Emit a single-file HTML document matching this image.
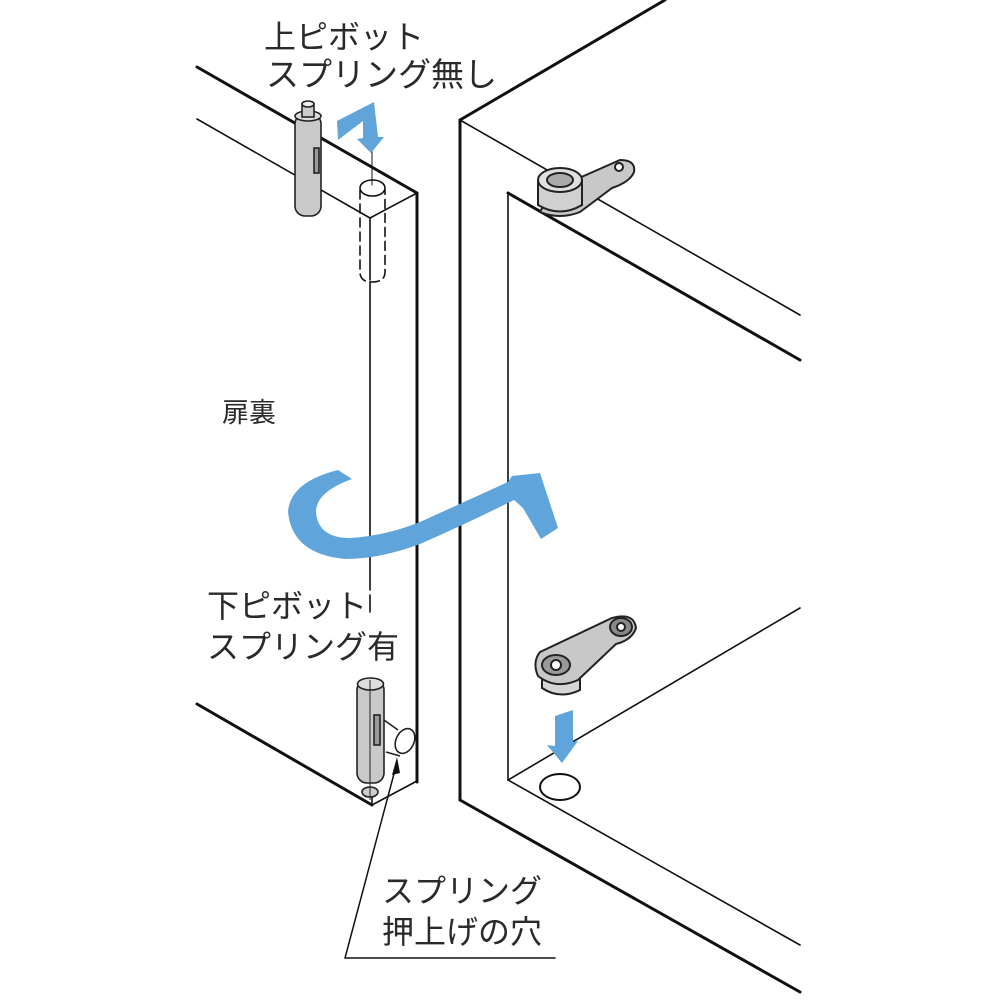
<!DOCTYPE html>
<html><head><meta charset="utf-8"><style>
html,body{margin:0;padding:0;background:#fff;}
svg{display:block;}
text{font-family:"Liberation Sans","Noto Sans CJK JP",sans-serif;fill:#2a2a2a;}
</style></head><body>
<svg width="1000" height="1000" viewBox="0 0 1000 1000" xmlns="http://www.w3.org/2000/svg">
<rect width="1000" height="1000" fill="#fff"/>
<g stroke="#111" fill="none" stroke-linecap="round">
<!-- door -->
<line x1="197" y1="67" x2="417" y2="193" stroke-width="3"/>
<line x1="197" y1="119" x2="370" y2="218" stroke-width="1.6"/>
<line x1="370" y1="218" x2="417" y2="193" stroke-width="1.6"/>
<line x1="417" y1="193" x2="417" y2="782" stroke-width="3"/>
<line x1="370" y1="218" x2="370" y2="280" stroke-width="1.6"/>
<line x1="370" y1="282" x2="370" y2="590" stroke-width="1.6"/>
<line x1="370" y1="595" x2="370" y2="612" stroke-width="1.6"/>
<line x1="372" y1="805" x2="372" y2="790" stroke-width="1.6"/>
<line x1="197" y1="704" x2="372" y2="805" stroke-width="3"/>
<line x1="372" y1="805" x2="417" y2="781" stroke-width="1.6"/>
<!-- dashed hole -->
<path d="M360 190 L360 272 Q360 282 372 282 Q385 282 385 272 L385 190" stroke-width="1.6" stroke-dasharray="9 5"/>
<ellipse cx="372.5" cy="188" rx="12.5" ry="8" stroke-width="1.6" fill="#fff"/>
<line x1="372" y1="150" x2="372" y2="185" stroke-width="1"/>
<!-- cabinet -->
<line x1="460" y1="120" x2="665" y2="0" stroke-width="3"/>
<line x1="460" y1="120" x2="460" y2="800" stroke-width="3"/>
<line x1="460" y1="800" x2="800" y2="992" stroke-width="3"/>
<line x1="460" y1="120" x2="800" y2="315" stroke-width="1.6"/>
<line x1="508" y1="193" x2="800" y2="360" stroke-width="3"/>
<line x1="508" y1="193" x2="508" y2="780" stroke-width="1.6"/>
<line x1="508" y1="780" x2="800" y2="945" stroke-width="1.6"/>
<line x1="508" y1="780" x2="800" y2="608" stroke-width="1.6"/>
<ellipse cx="560" cy="787" rx="20" ry="13" stroke-width="2"/>
<!-- leader -->
<path d="M395 770 L345 958 L555 958" stroke-width="1.5"/>
</g>
<polygon points="397,757 392,775 400,773" fill="#111"/>
<!-- top pin -->
<g stroke="#222" stroke-width="1.6">
<rect x="295" y="114" width="26" height="102" rx="10" fill="#c9c9c9"/>
<ellipse cx="308" cy="116" rx="13" ry="5" fill="#ddd"/>
<rect x="302" y="104" width="12" height="13" fill="#ccc"/>
<ellipse cx="308" cy="104" rx="6" ry="3" fill="#eee"/>
<rect x="314" y="148" width="5" height="25" fill="#999"/>
</g>
<!-- bottom pin -->
<g stroke="#222" stroke-width="1.6">
<rect x="357" y="680" width="27" height="103" rx="10" fill="#c9c9c9"/>
<ellipse cx="370.5" cy="684" rx="13" ry="6" fill="#ddd"/>
<ellipse cx="370" cy="792" rx="8" ry="5" fill="#ccc"/>
<rect x="374" y="715" width="6" height="30" fill="#999"/>
<line x1="370" y1="680" x2="370" y2="800" stroke-width="1"/>
<path d="M384 720 L398 730 M386 752 L400 756" fill="none"/>
<ellipse cx="405" cy="741" rx="9" ry="13" transform="rotate(25 405 741)" fill="#fff"/>
</g>
<!-- top hinge plate -->
<g stroke="#222" stroke-width="2">
<path d="M552 190 L620 160 Q636 160 634 172 Q630 182 612 188 L580 212 Q560 220 540 212 Z" fill="#c8c8c8"/>
<circle cx="619" cy="167" r="4" fill="#fff"/>
<path d="M538 180 L538 205 Q560 218 582 205 L582 180" fill="#d0d0d0"/>
<ellipse cx="560" cy="180" rx="22" ry="12" fill="#e0e0e0"/>
<ellipse cx="560" cy="180" rx="13" ry="7" fill="#aaa"/>
</g>
<!-- lower hinge plate -->
<g stroke="#222" stroke-width="2">
<path d="M542 672 L542 688 Q560 700 580 690 L580 674" fill="#d6d6d6"/>
<path d="M540 652 L612 618 Q634 612 636 628 Q632 640 616 644 L578 680 Q556 690 538 676 Q532 662 540 652 Z" fill="#c8c8c8"/>
<ellipse cx="556" cy="665" rx="14" ry="10" fill="#999"/>
<circle cx="556" cy="665" r="5" fill="#fff"/>
<ellipse cx="621" cy="627" rx="11" ry="9" fill="#888"/>
<circle cx="621" cy="627" r="4" fill="#fff"/>
</g>
<!-- blue arrows -->
<g fill="#5fa5dc">
<polygon points="337,121 374,102 378,137 384,137 371,153 357,139 363,138 363,121 338,140"/>
<polygon points="555,716 573,710 573,742 578,741 562,763 547,745 555,746"/>
<path d="M338 470 L352 479 Q316 492 316 512 Q318 538 350 538 Q385 536 420 522 L508 482 L512 476 L540 473 L558 528 L541 539 L523 508 L514 500 Q470 522 420 544 Q380 559 345 559 Q292 554 288 512 Q290 482 338 470 Z"/>
</g>
<!-- labels -->
<g font-size="32">
<text x="264" y="48">上ピボット</text>
<text x="266" y="86" font-size="33">スプリング無し</text>
<text x="222" y="422" font-size="27">扉裏</text>
<text x="207" y="617">下ピボット</text>
<text x="207" y="658">スプリング有</text>
<text x="382" y="902">スプリング</text>
<text x="382" y="943">押上げの穴</text>
</g>
</svg>
</body></html>
